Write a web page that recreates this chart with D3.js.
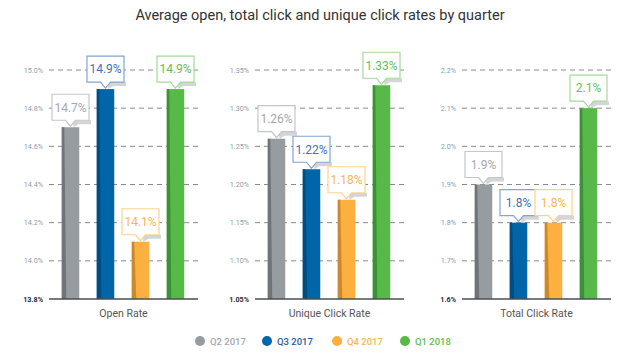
<!DOCTYPE html>
<html><head><meta charset="utf-8">
<script src="https://cdn.jsdelivr.net/npm/d3@7"></script>
<style>body{margin:0;background:#fff}svg{display:block}</style>
</head><body>
<svg id="c" width="640" height="358"></svg>
<script>
const quarters = ["Q2 2017","Q3 2017","Q4 2017","Q1 2018"];
const metrics = ["Open Rate","Unique Click Rate","Total Click Rate"];
const openRate = [14.7, 14.9, 14.1, 14.9];
const uniqueClickRate = [1.26, 1.22, 1.18, 1.33];
const totalClickRate = [1.9, 1.8, 1.8, 2.1];
const openTicks = [13.8, 14.0, 14.2, 14.4, 14.6, 14.8, 15.0];
const uniqueTicks = [1.05, 1.10, 1.15, 1.20, 1.25, 1.30, 1.35];
const totalTicks = [1.6, 1.7, 1.8, 1.9, 2.0, 2.1, 2.2];
const labelDigits = [1, 2, 1];

const barColors = ["#979ca1","#0066a8","#fbb040","#57b947"];
const darkColors = ["#6b6f73","#004a7c","#c7852a","#3a8c33"];
const textColors = ["#a3a8ad","#3f71b3","#f9b552","#66c05a"];
const borderColors = ["#c3c7cb","#82a5d2","#fcd290","#a3da98"];
const legendText = ["#a3a8ad","#1f5f9f","#f9b552","#5fbd52"];

const svg = d3.select("#c");
const font = "Roboto, 'DejaVu Sans', sans-serif";

svg.append("text").attr("x", 320).attr("y", 20).attr("text-anchor","middle")
  .attr("font-family", font).attr("font-size", 14.5).attr("fill","#333")
  .text("Average open, total click and unique click rates by quarter");

const panels = [
  {x0: 49, data: openRate, ticks: openTicks},
  {x0: 255, data: uniqueClickRate, ticks: uniqueTicks},
  {x0: 462, data: totalClickRate, ticks: totalTicks}
];
const yTop = 70, yBot = 299, axisW = 149;

panels.forEach((p, pi) => {
  const g = svg.append("g");
  const y = d3.scaleLinear().domain([p.ticks[0], p.ticks[p.ticks.length-1]]).range([yBot, yTop]);
  const x = d3.scaleBand().domain(quarters).range([p.x0+4, p.x0+144]).paddingInner(0.5).paddingOuter(0.25);
  const fmt = d3.format("." + labelDigits[pi] + "f");
  const tfmt = d3.format("." + (pi===1?2:1) + "f");

  // gridlines
  g.selectAll("line.grid").data(p.ticks.slice(1)).join("line")
    .attr("x1", p.x0).attr("x2", p.x0+axisW)
    .attr("y1", d => y(d)).attr("y2", d => y(d))
    .attr("stroke","#8a8a8a").attr("stroke-width",1).attr("stroke-dasharray","5,4");
  // tick labels
  g.selectAll("text.tick").data(p.ticks).join("text")
    .attr("x", p.x0-6).attr("y", d => y(d)+2.5).attr("text-anchor","end")
    .attr("font-family", font).attr("font-size", 7.2)
    .attr("font-weight", (d,i) => i===0 ? "bold" : "normal")
    .attr("fill", (d,i) => i===0 ? "#1d2b3a" : "#8d9db0")
    .text(d => tfmt(d) + "%");

  // bars
  const bw = x.bandwidth();
  g.selectAll("rect.bar").data(p.data).join("rect")
    .attr("x", (d,i) => x(quarters[i])).attr("width", bw)
    .attr("y", d => y(d)).attr("height", d => yBot - y(d))
    .attr("fill", (d,i) => barColors[i]);
  // left shading
  g.selectAll("path.shade").data(p.data).join("path")
    .attr("d", (d,i) => {
      const bx = x(quarters[i]), t = y(d);
      return `M${bx},${t}L${bx+2.5},${t}L${bx+4.5},${yBot}L${bx},${yBot}Z`;
    })
    .attr("fill", (d,i) => darkColors[i]).attr("opacity", 0.9);

  // baseline
  g.append("line").attr("x1", p.x0).attr("x2", p.x0+axisW)
    .attr("y1", yBot).attr("y2", yBot).attr("stroke","#4a4f55").attr("stroke-width",1.5);

  // category label
  g.append("text").attr("x", p.x0+axisW/2).attr("y", 317).attr("text-anchor","middle")
    .attr("font-family", font).attr("font-size", 10.5).attr("fill","#555")
    .text(metrics[pi]);

  // callouts
  const bwBox = 37, bh = 26, ph = 6;
  p.data.forEach((d, i) => {
    const cx = x(quarters[i]) + bw/2, tip = y(d) - 1;
    const bb = tip - ph, bt = bb - bh, l = cx - bwBox/2, r = cx + bwBox/2;
    // shadow
    g.append("path")
      .attr("d", `M${cx+2},${bb}L${r+2},${bb}L${r+2},${bb+4}L${cx+8},${bb+4}L${cx+3},${tip+1}Z`)
      .attr("fill","#c9cbcd").attr("opacity",0.8);
    g.append("path")
      .attr("d", `M${l},${bt}L${r},${bt}L${r},${bb}L${cx+5},${bb}L${cx},${tip}L${cx-5},${bb}L${l},${bb}Z`)
      .attr("fill","#fff").attr("stroke", borderColors[i]).attr("stroke-width",1.2);
    g.append("text").attr("x", cx).attr("y", bt + bh/2 + 4.3).attr("text-anchor","middle")
      .attr("font-family", font).attr("font-size", 12).attr("fill", textColors[i])
      .text(fmt(d) + "%");
  });
});

// legend
const legX = [200, 267, 337, 405];
const lg = svg.append("g");
quarters.forEach((q, i) => {
  lg.append("circle").attr("cx", legX[i]).attr("cy", 341).attr("r", 5).attr("fill", barColors[i]);
  lg.append("text").attr("x", legX[i]+10).attr("y", 344.5)
    .attr("font-family", font).attr("font-size", 9.5).attr("font-weight", 500)
    .attr("fill", legendText[i]).text(q);
});
</script>
</body></html>
